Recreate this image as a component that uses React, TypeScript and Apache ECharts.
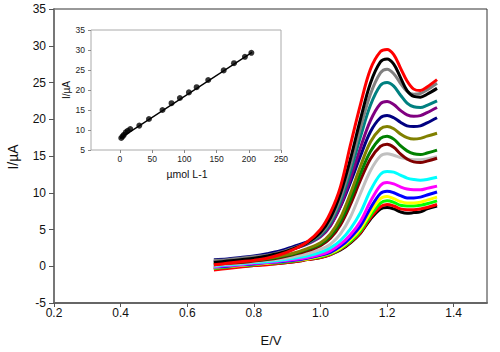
import React, { useEffect, useRef } from "react";
import * as echarts from "echarts";

// Potential grid (V)
const potentials = [0.68, 0.72, 0.76, 0.80, 0.84, 0.88, 0.92, 0.96, 1.00, 1.03, 1.06, 1.09, 1.12, 1.15, 1.18, 1.20, 1.22, 1.24, 1.26, 1.28, 1.30, 1.32, 1.35];

// Currents (µA), lowest concentration first
const curveBlack1 = [-0.4, -0.2, 0.0, 0.1, 0.3, 0.4, 0.6, 0.9, 1.2, 1.6, 2.2, 3.2, 4.5, 6.4, 7.8, 8.0, 7.8, 7.4, 7.2, 7.3, 7.4, 7.8, 8.2];
const curveRed1 = [-0.5, -0.3, -0.1, 0.1, 0.2, 0.4, 0.6, 0.9, 1.2, 1.6, 2.3, 3.3, 4.6, 6.6, 8.1, 8.4, 8.2, 7.8, 7.7, 7.7, 7.8, 8.0, 8.4];
const curveLime = [-0.3, -0.1, 0.1, 0.2, 0.4, 0.5, 0.7, 1.0, 1.3, 1.7, 2.4, 3.4, 4.8, 6.9, 8.6, 8.9, 8.7, 8.3, 8.2, 8.2, 8.3, 8.5, 8.9];
const curveYellow = [-0.2, 0.0, 0.1, 0.3, 0.4, 0.6, 0.8, 1.0, 1.4, 1.8, 2.5, 3.6, 5.1, 7.3, 9.2, 9.5, 9.2, 8.8, 8.6, 8.6, 8.7, 9.0, 9.4];
const curveBlue = [-0.1, 0.0, 0.2, 0.3, 0.5, 0.6, 0.8, 1.1, 1.5, 1.9, 2.7, 3.9, 5.5, 7.9, 9.9, 10.2, 10.0, 9.6, 9.3, 9.3, 9.4, 9.7, 10.1];
const curveMagenta = [-0.1, 0.1, 0.2, 0.4, 0.5, 0.7, 0.9, 1.2, 1.6, 2.1, 3.0, 4.3, 6.1, 8.8, 11.0, 11.4, 11.2, 10.8, 10.5, 10.4, 10.4, 10.6, 10.9];
const curveCyan = [0.0, 0.2, 0.3, 0.5, 0.6, 0.8, 1.1, 1.4, 1.9, 2.5, 3.5, 5.1, 7.3, 10.3, 12.5, 12.9, 12.8, 12.4, 12.0, 11.8, 11.7, 11.8, 12.1];
const curveSilver = [0.1, 0.3, 0.4, 0.6, 0.8, 1.0, 1.3, 1.7, 2.3, 3.0, 4.4, 6.7, 9.9, 13.0, 15.0, 15.3, 15.1, 14.8, 14.6, 14.5, 14.5, 14.6, 14.9];
const curveMaroon = [0.2, 0.4, 0.5, 0.7, 0.9, 1.2, 1.6, 2.1, 2.8, 3.8, 5.6, 8.4, 11.7, 14.6, 16.3, 16.6, 16.2, 15.3, 14.6, 14.2, 14.1, 14.3, 14.7];
const curveGreen = [0.3, 0.5, 0.6, 0.8, 1.0, 1.3, 1.7, 2.3, 3.0, 4.1, 6.1, 9.1, 12.6, 15.6, 17.4, 17.7, 17.3, 16.4, 15.7, 15.3, 15.2, 15.4, 15.8];
const curveOlive = [0.4, 0.5, 0.7, 0.9, 1.1, 1.4, 1.8, 2.4, 3.2, 4.4, 6.6, 9.9, 13.6, 16.9, 18.7, 19.0, 18.7, 18.0, 17.5, 17.3, 17.4, 17.7, 18.1];
const curveNavy = [0.9, 1.0, 1.2, 1.4, 1.7, 2.1, 2.7, 3.3, 4.2, 5.6, 8.1, 11.4, 15.0, 18.3, 20.2, 20.5, 20.2, 19.6, 19.1, 19.0, 19.1, 19.5, 20.2];
const curvePurple = [0.6, 0.8, 1.0, 1.2, 1.4, 1.8, 2.4, 3.0, 4.0, 5.5, 8.2, 11.9, 16.1, 19.8, 22.1, 22.4, 22.0, 21.2, 20.6, 20.4, 20.5, 20.9, 21.6];
const curveTeal = [0.6, 0.8, 1.0, 1.2, 1.4, 1.8, 2.4, 3.1, 4.2, 5.9, 8.8, 12.9, 17.6, 21.9, 24.6, 25.0, 24.5, 23.3, 22.2, 21.7, 21.6, 21.9, 22.5];
const curveGray = [0.8, 0.9, 1.1, 1.3, 1.5, 1.9, 2.5, 3.2, 4.4, 6.2, 9.3, 13.7, 18.8, 23.4, 26.3, 26.8, 26.2, 24.9, 23.8, 23.4, 23.5, 24.0, 24.9];
const curveBlack2 = [0.5, 0.7, 0.9, 1.1, 1.4, 1.8, 2.4, 3.2, 4.6, 6.6, 9.9, 14.6, 20.0, 24.9, 27.8, 28.2, 27.5, 25.7, 23.9, 23.1, 23.0, 23.4, 24.2];
const curveRed2 = [0.2, 0.4, 0.6, 0.8, 1.1, 1.6, 2.3, 3.3, 5.0, 7.3, 10.8, 16.5, 22.0, 26.8, 29.2, 29.5, 28.8, 27.0, 25.2, 24.1, 23.9, 24.4, 25.4];

const curves = [curveBlack1, curveRed1, curveLime, curveYellow, curveBlue, curveMagenta, curveCyan, curveSilver, curveMaroon, curveGreen, curveOlive, curveNavy, curvePurple, curveTeal, curveGray, curveBlack2, curveRed2];
const curveColors = ["#000000", "#ff0000", "#00ff00", "#ffff00", "#0000ff", "#ff00ff", "#00ffff", "#c0c0c0", "#800000", "#008000", "#808000", "#000080", "#800080", "#008080", "#808080", "#000000", "#ff0000"];

// Inset calibration data
const concentrations = [2, 4, 6, 9, 12, 16, 30, 45, 66, 80, 93, 107, 119, 137, 161, 177, 194, 204];
const peakCurrents = [8.0, 8.4, 8.8, 9.4, 9.8, 10.25, 11.1, 12.75, 15.0, 16.7, 18.0, 19.4, 20.7, 22.5, 24.9, 26.7, 28.3, 29.3];
const fitX = [0, 205];
const fitY = [7.9, 29.4];
const insetTicks = [0, 50, 100, 150, 200, 250];

const FONT = "'Liberation Sans', Arial, sans-serif";

export default function App() {
  const ref = useRef<HTMLDivElement>(null);
  useEffect(() => {
    if (!ref.current) return;
    const chart = echarts.init(ref.current, null, { renderer: "svg" });
    const lineSeries = curves.map((c, i) => ({
      type: "line",
      xAxisIndex: 0,
      yAxisIndex: 0,
      data: c.map((v, j) => [potentials[j], v]),
      smooth: 0.35,
      showSymbol: false,
      lineStyle: { color: curveColors[i], width: 3 },
      z: 2 + i * 0.01,
    }));
    chart.setOption({
      animation: false,
      backgroundColor: "#ffffff",
      textStyle: { fontFamily: FONT },
      grid: [
        { left: 54, right: 13, top: 9, bottom: 49, show: true, borderColor: "#333", borderWidth: 1 },
        { left: 91, right: 219, top: 30, bottom: 202, show: true, borderColor: "#aaa", borderWidth: 1, backgroundColor: "#fff", z: 5 },
      ],
      xAxis: [
        {
          gridIndex: 0, type: "value", min: 0.2, max: 1.5, interval: 0.2,
          axisLine: { show: true, onZero: false, lineStyle: { color: "#666", width: 2 } },
          axisTick: { show: true, inside: false, length: 4, lineStyle: { color: "#555", width: 1 } },
          axisLabel: { color: "#111", fontSize: 12, margin: 4, fontFamily: FONT, showMaxLabel: false, formatter: (v: number) => v.toFixed(1) },
          splitLine: { show: false },
        },
        {
          gridIndex: 1, type: "value", min: -45, max: 250,
          axisLine: { show: false, onZero: false },
          axisTick: { show: true, inside: false, length: 3, customValues: insetTicks, lineStyle: { color: "#888" } },
          axisLabel: { color: "#222", fontSize: 8.5, margin: 4, fontFamily: FONT, customValues: insetTicks },
          splitLine: { show: false },
          z: 6,
        },
      ],
      yAxis: [
        {
          gridIndex: 0, type: "value", min: -5, max: 35, interval: 5,
          axisLine: { show: true, onZero: false, lineStyle: { color: "#777", width: 2 } },
          axisTick: { show: true, inside: false, length: 5, lineStyle: { color: "#555", width: 1 } },
          axisLabel: { color: "#111", fontSize: 12, margin: 8, fontFamily: FONT },
          splitLine: { show: false },
        },
        {
          gridIndex: 1, type: "value", min: 5, max: 35, interval: 5,
          axisLine: { show: false, onZero: false },
          axisTick: { show: true, inside: false, length: 3, lineStyle: { color: "#888" } },
          axisLabel: { color: "#222", fontSize: 8.5, margin: 6, fontFamily: FONT },
          splitLine: { show: false },
          z: 6,
        },
      ],
      series: [
        ...lineSeries,
        {
          type: "line", xAxisIndex: 1, yAxisIndex: 1,
          data: fitX.map((x, i) => [x, fitY[i]]),
          showSymbol: false, lineStyle: { color: "#000", width: 1.3 }, z: 7,
        },
        {
          type: "scatter", xAxisIndex: 1, yAxisIndex: 1,
          data: concentrations.map((x, i) => [x, peakCurrents[i]]),
          symbolSize: 6, itemStyle: { color: "#000" }, z: 8,
        },
      ],
      graphic: [
        { type: "text", x: 13, y: 157, rotation: Math.PI / 2, z: 10, style: { text: "I/µA", fontSize: 14, fill: "#111", align: "center", verticalAlign: "middle", fontFamily: FONT } },
        { type: "text", x: 271, y: 340, z: 10, style: { text: "E/V", fontSize: 13, fill: "#111", align: "center", verticalAlign: "middle", fontFamily: FONT } },
        { type: "text", x: 66, y: 90, rotation: Math.PI / 2, z: 10, style: { text: "I/µA", fontSize: 10, fill: "#111", align: "center", verticalAlign: "middle", fontFamily: FONT } },
        { type: "text", x: 187, y: 174, z: 10, style: { text: "µmol L-1", fontSize: 10.5, fill: "#111", align: "center", verticalAlign: "middle", fontFamily: FONT } },
      ],
    });
    return () => chart.dispose();
  }, []);
  return <div ref={ref} style={{ width: 500, height: 352, position: "absolute", left: 0, top: 0 }} />;
}
